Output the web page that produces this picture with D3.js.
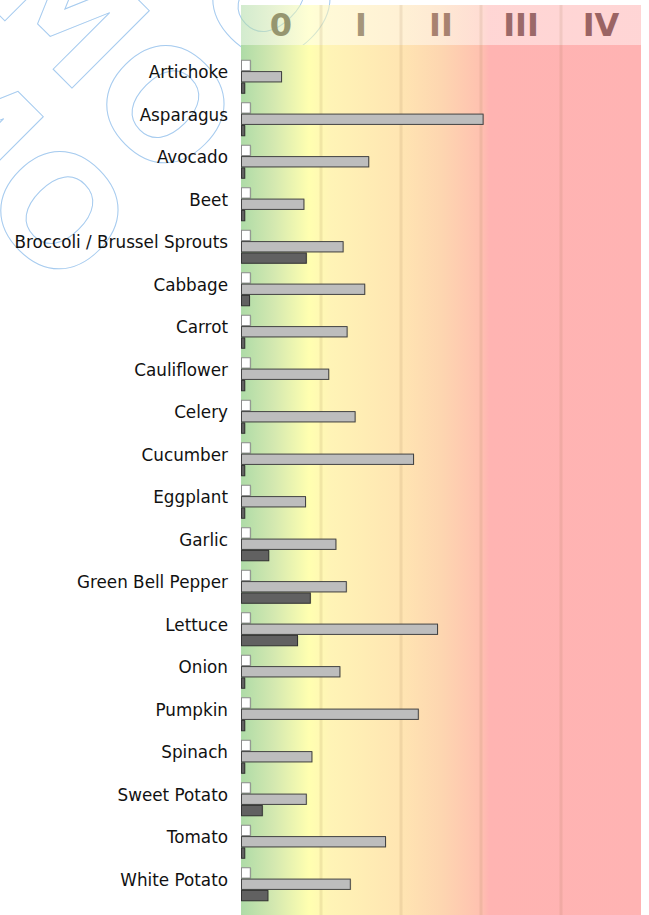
<!DOCTYPE html>
<html>
<head>
<meta charset="utf-8">
<style>
  body { margin: 0; background: #fff; }
  svg { display: block; }
  .label { font-family: 'DejaVu Sans', sans-serif; font-size: 16.8px; fill: #111; }
  .zone { font-family: 'DejaVu Sans', sans-serif; font-weight: bold; font-size: 32px; }
</style>
</head>
<body>
<svg width="649" height="915"></svg>
<script src="https://cdn.jsdelivr.net/npm/d3@7"></script>
<script>
const categories = ["Artichoke", "Asparagus", "Avocado", "Beet", "Broccoli / Brussel Sprouts",
  "Cabbage", "Carrot", "Cauliflower", "Celery", "Cucumber", "Eggplant", "Garlic",
  "Green Bell Pepper", "Lettuce", "Onion", "Pumpkin", "Spinach", "Sweet Potato",
  "Tomato", "White Potato"];
const whiteVals = [0.11, 0.11, 0.11, 0.11, 0.11, 0.11, 0.11, 0.11, 0.11, 0.11,
  0.11, 0.11, 0.11, 0.11, 0.11, 0.11, 0.11, 0.11, 0.11, 0.11];
const greyVals = [0.5, 3.02, 1.59, 0.78, 1.27, 1.54, 1.32, 1.09, 1.42, 2.15,
  0.8, 1.18, 1.31, 2.45, 1.23, 2.21, 0.88, 0.81, 1.8, 1.36];
const darkVals = [0.04, 0.04, 0.04, 0.04, 0.81, 0.1, 0.04, 0.04, 0.04, 0.04,
  0.04, 0.34, 0.86, 0.7, 0.04, 0.04, 0.04, 0.26, 0.04, 0.33];
const zoneLabels = ["0", "I", "II", "III", "IV"];
const watermarkText = "DEMO DEMO";

const zoneColors = ["#969670", "#a5967a", "#a88270", "#9b6969", "#9b6464"];
const seriesKeys = ["white", "grey", "dark"];
const seriesFill = { white: "#ffffff", grey: "#bdbdbd", dark: "#616161" };
const seriesStroke = { white: "#8a8a8a", grey: "#444", dark: "#333" };

const svg = d3.select("svg");
const plotLeft = 241, plotRight = 641, plotTop = 5, headerH = 40, plotBottom = 915;

const x = d3.scaleLinear().domain([0, 5]).range([plotLeft, plotRight]);
const y = d3.scaleBand().domain(categories).range([55.5, 905.5]).paddingInner(0.2).paddingOuter(0.1);
const ySub = d3.scaleBand().domain(seriesKeys).range([0, y.bandwidth()]);

// watermark, drawn first so the chart covers it
const wm = svg.append("g")
  .attr("fill", "none")
  .attr("stroke", "#a6cbef")
  .attr("stroke-width", 1)
  .style("font-family", "'DejaVu Sans', sans-serif")
  .style("font-weight", "bold")
  .style("font-size", "150px");
[[66, 294], [172, 188], [278, 82], [384, -24]].forEach(p => {
  wm.append("text")
    .attr("transform", `translate(${p[0]},${p[1]}) rotate(45)`)
    .attr("text-anchor", "end")
    .text(watermarkText);
});

// gradient
const defs = svg.append("defs");
const grad = defs.append("linearGradient")
  .attr("id", "bg").attr("gradientUnits", "userSpaceOnUse")
  .attr("x1", plotLeft).attr("x2", plotRight).attr("y1", 0).attr("y2", 0);
[[0, "#aedba7"], [0.08, "#d3e8b0"], [0.17, "#ffffb0"], [0.22, "#fff4b6"],
 [0.4, "#ffe5b2"], [0.5, "#fdd6b0"], [0.6, "#ffc1b0"], [0.62, "#ffb4b2"], [1, "#ffb3b3"]]
  .forEach(s => grad.append("stop").attr("offset", s[0]).attr("stop-color", s[1]));

svg.append("rect")
  .attr("x", plotLeft).attr("y", plotTop).attr("width", plotRight - plotLeft).attr("height", headerH)
  .attr("fill", "url(#bg)").attr("opacity", 0.55);
svg.append("rect")
  .attr("x", plotLeft).attr("y", plotTop + headerH)
  .attr("width", plotRight - plotLeft).attr("height", plotBottom - plotTop - headerH)
  .attr("fill", "url(#bg)");

// zone dividers
svg.append("g").selectAll("line")
  .data([1, 2, 3, 4])
  .join("line")
  .attr("x1", d => x(d)).attr("x2", d => x(d))
  .attr("y1", plotTop).attr("y2", plotBottom)
  .attr("stroke", "rgba(150,110,70,0.13)")
  .attr("stroke-width", 3);

// zone numerals
svg.append("g").selectAll("text")
  .data(zoneLabels)
  .join("text")
  .attr("class", "zone")
  .attr("x", (d, i) => x(i + 0.5))
  .attr("y", 36)
  .attr("text-anchor", "middle")
  .attr("fill", (d, i) => zoneColors[i])
  .text(d => d);

// bars
const rows = categories.map((c, i) => ({
  name: c,
  vals: [
    { key: "white", v: whiteVals[i] },
    { key: "grey", v: greyVals[i] },
    { key: "dark", v: darkVals[i] }
  ]
}));

const groups = svg.append("g").selectAll("g")
  .data(rows)
  .join("g")
  .attr("transform", d => `translate(0,${y(d.name)})`);

groups.selectAll("rect.shadow")
  .data(d => d.vals)
  .join("rect")
  .attr("class", "shadow")
  .attr("x", x(0) + 1.5)
  .attr("y", d => ySub(d.key) + 1)
  .attr("width", d => x(d.v) - x(0))
  .attr("height", ySub.bandwidth() - 1)
  .attr("fill", "rgba(0,0,0,0.12)");

groups.selectAll("rect.bar")
  .data(d => d.vals)
  .join("rect")
  .attr("class", "bar")
  .attr("x", x(0) + 0.5)
  .attr("y", d => ySub(d.key) + 0.5)
  .attr("width", d => x(d.v) - x(0))
  .attr("height", ySub.bandwidth() - 1)
  .attr("fill", d => seriesFill[d.key])
  .attr("stroke", d => seriesStroke[d.key])
  .attr("stroke-width", 1);

// category labels
svg.append("g").selectAll("text")
  .data(categories)
  .join("text")
  .attr("class", "label")
  .attr("x", 228)
  .attr("y", d => y(d) + 18.7)
  .attr("text-anchor", "end")
  .text(d => d);
</script>
</body>
</html>
